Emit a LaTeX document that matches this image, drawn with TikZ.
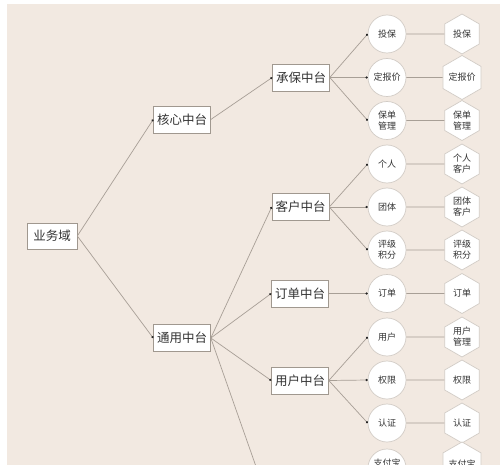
\documentclass[tikz,border=0pt]{standalone}
\usepackage{fontspec}
\setmainfont{Noto Sans CJK SC}
\usetikzlibrary{shapes.geometric,arrows.meta}
\definecolor{bg}{HTML}{F2E9E1}
\definecolor{linec}{HTML}{A89F96}
\definecolor{boxb}{HTML}{A0988F}
\definecolor{circb}{HTML}{D2CCC6}
\definecolor{txt}{HTML}{333333}
\begin{document}
\begin{tikzpicture}[x=1pt,y=-1pt,
  conn/.style={draw=linec, line width=0.7pt, -{Circle[length=2.2pt,color=black!85,fill=black!85]}},
  plain/.style={draw=linec, line width=0.7pt},
  midbox/.style={draw=boxb, fill=white, minimum width=57pt, minimum height=27pt, inner sep=0pt, line width=0.6pt, text=txt, font=\fontsize{12.5}{14}\selectfont},
  circ/.style={circle, draw=circb, fill=white, minimum size=38pt, inner sep=0pt, line width=0.7pt, align=center, text=txt, font=\fontsize{9}{11}\selectfont},
  hexa/.style={regular polygon, regular polygon sides=6, shape border rotate=90, draw=circb, fill=white, minimum size=40pt, inner sep=0pt, line width=0.7pt, align=center, text=txt, font=\fontsize{9}{11}\selectfont}]
\useasboundingbox (0,0) rectangle (500,465);
\fill[white] (0,0) rectangle (500,465);
\fill[bg] (7,4) rectangle (500,465);
\begin{scope}
\clip (7,4) rectangle (500,465);
% level nodes
\node[midbox, minimum width=50pt, minimum height=26pt] (dom) at (52,236) {业务域};
\node[midbox] (core) at (182,119.5) {核心中台};
\node[midbox] (gen) at (182,338) {通用中台};
\node[midbox] (cb) at (301,77.5) {承保中台};
\node[midbox] (kh) at (300.5,207) {客户中台};
\node[midbox] (dd) at (300,293.5) {订单中台};
\node[midbox] (yh) at (300,380.5) {用户中台};
\coordinate (p5) at (272,512);
% circles
\node[circ] (c1) at (387,34) {投保};
\node[circ] (c2) at (387,77.5) {定报价};
\node[circ] (c3) at (387,120.5) {保单\\管理};
\node[circ] (c4) at (387,164) {个人};
\node[circ] (c5) at (387,207) {团体};
\node[circ] (c6) at (387,250) {评级\\积分};
\node[circ] (c7) at (387,293.5) {订单};
\node[circ] (c8) at (387,337) {用户};
\node[circ] (c9) at (387,380) {权限};
\node[circ] (c10) at (387,423) {认证};
\node[circ] (c11) at (387,468) {支付宝\\\phantom{宝}};
% hexagons
\node[hexa] (h1) at (462,34) {投保};
\node[hexa] (h2) at (462,77.5) {定报价};
\node[hexa] (h3) at (462,120.5) {保单\\管理};
\node[hexa] (h4) at (462,164) {个人\\客户};
\node[hexa] (h5) at (462,207) {团体\\客户};
\node[hexa] (h6) at (462,250) {评级\\积分};
\node[hexa] (h7) at (462,293.5) {订单};
\node[hexa] (h8) at (462,337) {用户\\管理};
\node[hexa] (h9) at (462,380) {权限};
\node[hexa] (h10) at (462,423) {认证};
\node[hexa] (h11) at (462,464) {支付宝};
% connectors
\draw[conn] (dom.east) -- (core.west);
\draw[conn] (dom.east) -- (gen.west);
\draw[conn] (core.east) -- (cb.west);
\draw[conn] (gen.east) -- (kh.west);
\draw[conn] (gen.east) -- (dd.west);
\draw[conn] (gen.east) -- (yh.west);
\draw[plain] (gen.east) -- (p5);
\draw[conn] (cb.east) -- (c1.west);
\draw[conn] (cb.east) -- (c2.west);
\draw[conn] (cb.east) -- (c3.west);
\draw[conn] (kh.east) -- (c4.west);
\draw[conn] (kh.east) -- (c5.west);
\draw[conn] (kh.east) -- (c6.west);
\draw[conn] (dd.east) -- (c7.west);
\draw[conn] (yh.east) -- (c8.west);
\draw[conn] (yh.east) -- (c9.west);
\draw[conn] (yh.east) -- (c10.west);
\foreach \i in {1,...,10} {\draw[plain] (c\i.east) -- (h\i.west);}
\end{scope}
\end{tikzpicture}
\end{document}
